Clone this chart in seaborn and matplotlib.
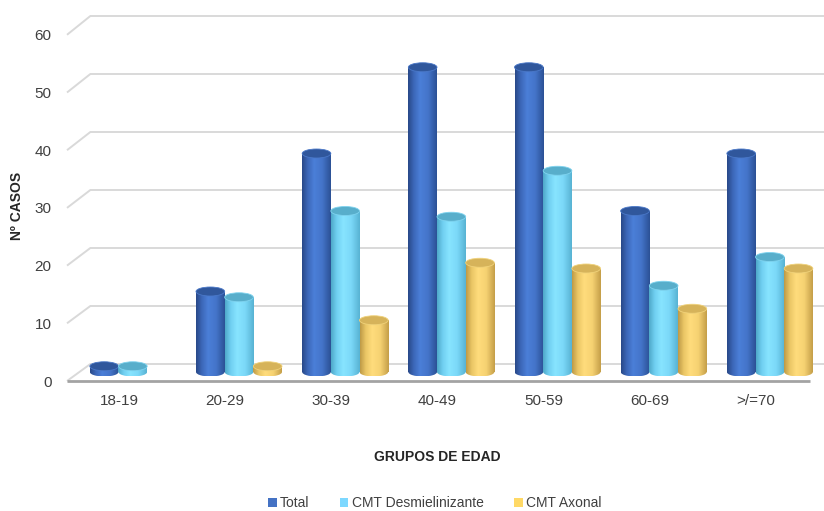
import numpy as np
import pandas as pd
import matplotlib
matplotlib.use("Agg")
import matplotlib.pyplot as plt
from matplotlib.colors import LinearSegmentedColormap
from matplotlib.patches import Ellipse, Patch
import seaborn as sns

# ---- data -------------------------------------------------------------
grupos = ["18-19", "20-29", "30-39", "40-49", "50-59", "60-69", ">/=70"]
total = [1, 14, 38, 53, 53, 28, 38]
desmielinizante = [1, 13, 28, 27, 35, 15, 20]
axonal = [0, 1, 9, 19, 18, 11, 18]
series = ["Total", "CMT Desmielinizante", "CMT Axonal"]
y_ticks = [0, 10, 20, 30, 40, 50, 60]

df = pd.DataFrame({
    "grupo": grupos * 3,
    "serie": np.repeat(series, len(grupos)),
    "casos": total + desmielinizante + axonal,
})

# ---- styling ----------------------------------------------------------
base_colors = {"Total": "#4472C4", "CMT Desmielinizante": "#7DD8FF", "CMT Axonal": "#FFD966"}
shades = {
    "Total": ["#284887", "#3c67b8", "#4b7fd8", "#4474c9", "#2b5195"],
    "CMT Desmielinizante": ["#4ea8c8", "#70cff1", "#87e4ff", "#7bd8f8", "#57b2d2"],
    "CMT Axonal": ["#bd9946", "#eac665", "#ffdc7c", "#f6d272", "#c49e48"],
}
caps = {"Total": "#30579c", "CMT Desmielinizante": "#58aecb", "CMT Axonal": "#d6b35a"}
cap_rims = {"Total": "#4a78c8", "CMT Desmielinizante": "#7fd3ef", "CMT Axonal": "#f0d27a"}

sns.set_style("white")
plt.rcParams["font.family"] = ["Liberation Sans", "DejaVu Sans"]

W, H = 824, 511
fig = plt.figure(figsize=(W / 100, H / 100), dpi=100)
ax = fig.add_axes([67 / W, (H - 390) / H, (W - 67) / W, (390 - 5) / H])

sns.barplot(data=df, x="grupo", y="casos", hue="serie", order=grupos,
            hue_order=series, palette=base_colors, width=0.81, saturation=1,
            ax=ax, legend=False, linewidth=0, zorder=3)

# pixel-derived perspective helpers for the back wall and front floor edge
PX_PER_UNIT = 5.75
BASE_PX = 372


def front_y(v):
    return (BASE_PX - (381 - v * 5.77)) / PX_PER_UNIT


def back_y(v):
    return (BASE_PX - (364 - v * 5.80)) / PX_PER_UNIT


X_LEFT, X_BACK, X_RIGHT, X_FLOOR_END = -0.62, -0.40, 6.51, 6.38

for v in y_ticks:
    ax.plot([X_LEFT, X_BACK, X_RIGHT], [front_y(v), back_y(v), back_y(v)],
            color="#d9d9d9", lw=1.4, zorder=1, clip_on=False,
            solid_capstyle="butt")
ax.plot([X_LEFT, X_FLOOR_END], [front_y(0), front_y(0)], color="#a3a3a3",
        lw=2.0, zorder=2, solid_capstyle="butt")

# cylinder shading on every bar
eh = 9 / PX_PER_UNIT
grad = np.linspace(0, 1, 256).reshape(1, -1)
for container, name in zip(ax.containers, series):
    cmap = LinearSegmentedColormap.from_list(
        name, list(zip([0, 0.2, 0.42, 0.7, 1.0], shades[name])))
    for bar in container:
        h = bar.get_height()
        if h <= 0:
            bar.set_visible(False)
            continue
        x0, w = bar.get_x(), bar.get_width()
        cx = x0 + w / 2
        im = ax.imshow(grad, cmap=cmap, extent=[x0, x0 + w, 0, h],
                       aspect="auto", zorder=4, interpolation="bilinear")
        im.set_clip_path(bar)
        bottom = Ellipse((cx, 0), w, eh, transform=ax.transData)
        im2 = ax.imshow(grad, cmap=cmap, extent=[x0, x0 + w, -eh / 2, eh / 2],
                        aspect="auto", zorder=4, interpolation="bilinear")
        im2.set_clip_path(bottom)
        ax.add_patch(Ellipse((cx, h), w, eh, facecolor=caps[name],
                             edgecolor=cap_rims[name], lw=0.6, zorder=5))

ax.set_xlim(X_LEFT, X_RIGHT)
ax.set_ylim((BASE_PX - 390) / PX_PER_UNIT, (BASE_PX - 5) / PX_PER_UNIT)

ax.set_xticks(np.arange(len(grupos)) - 0.13, grupos)
ax.set_yticks([front_y(v) for v in y_ticks], [str(v) for v in y_ticks])
ax.tick_params(axis="both", length=0, labelsize=11, labelcolor="#404040")
ax.tick_params(axis="y", pad=11)
ax.tick_params(axis="x", pad=3)
ax.set_xlabel("")
ax.set_ylabel("")
for s in ax.spines.values():
    s.set_visible(False)
ax.grid(False)

fig.text(437.5 / W, 1 - 457 / H, "GRUPOS DE EDAD", ha="center", va="center",
         fontsize=10, fontweight="bold", color="#262626")
fig.text(17 / W, 1 - 206 / H, "Nº CASOS", ha="center", va="center",
         rotation=90, fontsize=10, fontweight="bold", color="#262626")

handles = [Patch(facecolor=base_colors[s], edgecolor="none", label=s) for s in series]
fig.legend(handles=handles, loc="center", bbox_to_anchor=(435 / W, 1 - 503 / H),
           ncol=3, frameon=False, fontsize=10, handlelength=0.6,
           handleheight=0.6, handletextpad=0.25, columnspacing=2.2,
           labelcolor="#404040")

fig.savefig("out.png", dpi=100)
